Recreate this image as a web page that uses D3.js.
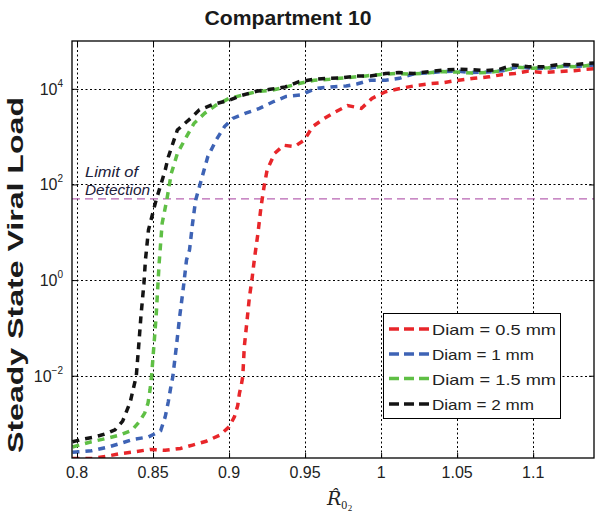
<!DOCTYPE html>
<html><head><meta charset="utf-8">
<script src="https://cdn.jsdelivr.net/npm/d3@7/dist/d3.min.js"></script>
<style>body{margin:0;background:#fff}svg{display:block}</style>
</head><body><div id="chart"></div>
<script>
// ---- data (y values given as log10 of the steady state viral load) ----
const seriesLabels = ["Diam = 0.5 mm", "Diam = 1 mm", "Diam = 1.5 mm", "Diam = 2 mm"];
const seriesColors = ["#e8262a", "#3e63b5", "#5fbf45", "#141414"];

const redX = [0.797,0.81,0.82,0.828,0.838,0.848,0.858,0.868,0.876,0.885,0.894,0.9,0.9035,0.9057,0.9068,0.908,0.909,0.910,0.9116,0.9134,0.915,0.9167,0.919,0.921,0.923,0.925,0.93,0.936,0.943,0.9495,0.955,0.9626,0.97,0.978,0.987,0.994,1.003,1.013,1.023,1.033,1.041,1.051,1.061,1.071,1.08,1.088,1.097,1.106,1.117,1.127,1.135,1.14];
const redLog = [-3.73,-3.73,-3.68,-3.63,-3.59,-3.54,-3.56,-3.52,-3.45,-3.37,-3.24,-3.07,-2.86,-2.62,-2.37,-2.2,-2.02,-1.4,-0.91,-0.35,0.0,0.45,0.98,1.53,1.95,2.3,2.65,2.82,2.79,2.93,3.21,3.38,3.52,3.65,3.59,3.8,3.94,4.01,4.07,4.11,4.13,4.18,4.22,4.25,4.3,4.32,4.37,4.34,4.36,4.38,4.41,4.42];

const blueX = [0.797,0.8095,0.8194,0.828,0.837,0.847,0.855,0.858,0.860,0.8615,0.863,0.8653,0.8675,0.870,0.872,0.874,0.876,0.878,0.8817,0.886,0.8915,0.897,0.9024,0.911,0.92,0.929,0.9375,0.947,0.957,0.967,0.977,0.984,0.993,1.003,1.012,1.022,1.03,1.04,1.05,1.06,1.07,1.08,1.09,1.1,1.11,1.12,1.13,1.14];
const blueLog = [-3.6,-3.57,-3.5,-3.42,-3.33,-3.28,-3.15,-2.86,-2.55,-2.27,-2.02,-1.4,-0.77,-0.14,0.42,0.63,1.19,1.67,2.09,2.58,2.93,3.21,3.38,3.49,3.59,3.73,3.84,3.87,4.01,4.04,4.06,4.1,4.18,4.18,4.22,4.32,4.33,4.36,4.37,4.34,4.35,4.38,4.46,4.43,4.43,4.48,4.47,4.5];

const greenX = [0.797,0.8095,0.8194,0.828,0.836,0.841,0.8445,0.8467,0.848,0.849,0.8505,0.852,0.853,0.854,0.855,0.856,0.859,0.862,0.866,0.872,0.877,0.884,0.8915,0.9,0.909,0.918,0.928,0.9375,0.946,0.956,0.966,0.976,0.99,1.0,1.01,1.02,1.03,1.04,1.05,1.06,1.07,1.08,1.09,1.1,1.11,1.12,1.13,1.14];
const greenLog = [-3.49,-3.38,-3.31,-3.24,-3.14,-2.96,-2.78,-2.57,-2.3,-2.02,-1.4,-0.77,-0.21,0.35,0.77,1.19,1.67,2.23,2.65,3.0,3.28,3.49,3.66,3.8,3.87,3.94,3.97,4.04,4.11,4.18,4.2,4.23,4.27,4.3,4.32,4.31,4.33,4.36,4.35,4.33,4.34,4.38,4.45,4.43,4.44,4.47,4.46,4.51];

const blackX = [0.797,0.805,0.81,0.815,0.82,0.825,0.83,0.835,0.839,0.8405,0.842,0.844,0.845,0.847,0.852,0.858,0.86,0.866,0.875,0.8805,0.89,0.899,0.908,0.918,0.927,0.937,0.946,0.956,0.966,0.9743,0.984,0.993,1.003,1.0117,1.0216,1.0314,1.04,1.05,1.06,1.069,1.077,1.087,1.097,1.107,1.117,1.1265,1.135,1.14];
const blackLog = [-3.38,-3.32,-3.29,-3.25,-3.2,-3.13,-2.95,-2.55,-2.0,-1.4,-0.77,-0.07,0.42,1.05,1.67,2.3,2.57,3.14,3.39,3.56,3.68,3.75,3.86,3.95,3.99,4.04,4.15,4.2,4.22,4.23,4.27,4.27,4.32,4.34,4.32,4.36,4.39,4.41,4.4,4.38,4.4,4.5,4.46,4.46,4.51,4.5,4.53,4.54];

const xTicks = [0.8, 0.85, 0.9, 0.95, 1, 1.05, 1.1];
const xTickLabels = ["0.8", "0.85", "0.9", "0.95", "1", "1.05", "1.1"];
const yTickExps = [-2, 0, 2, 4];
const limitOfDetection = 50;
const titleText = "Compartment 10";
const yLabelText = "Steady State Viral Load";

// ---- layout ----
const W = 601, H = 518;
const m = {left: 72, right: 594, top: 41, bottom: 458};

const svg = d3.select("#chart").append("svg").attr("width", W).attr("height", H)
  .style("font-family", "'Liberation Sans', Arial, sans-serif");

const x = d3.scaleLinear().domain([0.7967, 1.14]).range([m.left, m.right]);
const y = d3.scaleLog().domain([Math.pow(10, -3.72), 1e5]).range([m.bottom, m.top]);

svg.append("defs").append("clipPath").attr("id", "clip")
  .append("rect").attr("x", m.left).attr("y", m.top)
  .attr("width", m.right - m.left).attr("height", m.bottom - m.top);

// grid
const grid = svg.append("g").attr("stroke", "#000").attr("stroke-width", 1)
  .attr("stroke-dasharray", "2,2.5");
grid.selectAll(".gx").data(xTicks).join("line")
  .attr("x1", d => Math.round(x(d)) + 0.5).attr("x2", d => Math.round(x(d)) + 0.5)
  .attr("y1", m.top).attr("y2", m.bottom);
grid.selectAll(".gy").data(yTickExps).join("line")
  .attr("y1", d => Math.round(y(Math.pow(10, d))) + 0.5).attr("y2", d => Math.round(y(Math.pow(10, d))) + 0.5)
  .attr("x1", m.left).attr("x2", m.right);

// limit of detection
svg.append("line")
  .attr("x1", m.left).attr("x2", m.right)
  .attr("y1", y(limitOfDetection)).attr("y2", y(limitOfDetection))
  .attr("stroke", "#b864b2").attr("stroke-width", 1.4).attr("stroke-dasharray", "8,5");

const lod = svg.append("text").attr("font-style", "italic").attr("font-size", 14)
  .attr("fill", "#20203a");
lod.append("tspan").attr("x", 85).attr("y", 177).attr("textLength", 53)
  .attr("lengthAdjust", "spacingAndGlyphs").text("Limit of");
lod.append("tspan").attr("x", 85).attr("y", 195).attr("textLength", 65)
  .attr("lengthAdjust", "spacingAndGlyphs").text("Detection");

// series
const series = [
  {x: redX, v: redLog},
  {x: blueX, v: blueLog},
  {x: greenX, v: greenLog},
  {x: blackX, v: blackLog}
];
const line = d3.line().x(d => x(d[0])).y(d => y(Math.pow(10, d[1])));
const lines = svg.append("g").attr("clip-path", "url(#clip)");
series.forEach((s, i) => {
  lines.append("path")
    .datum(s.x.map((xv, j) => [xv, s.v[j]]))
    .attr("d", line)
    .attr("fill", "none")
    .attr("stroke", seriesColors[i])
    .attr("stroke-width", 3.5)
    .attr("stroke-dasharray", "7,6");
});

// frame
svg.append("rect").attr("x", m.left).attr("y", m.top)
  .attr("width", m.right - m.left).attr("height", m.bottom - m.top)
  .attr("fill", "none").attr("stroke", "#000").attr("stroke-width", 1.3);

// axes ticks (inward, on all sides)
const xAxisB = d3.axisBottom(x).tickValues(xTicks).tickSize(-5).tickFormat("");
const xAxisT = d3.axisTop(x).tickValues(xTicks).tickSize(-5).tickFormat("");
const yAxisL = d3.axisLeft(y).tickValues(yTickExps.map(e => Math.pow(10, e))).tickSize(-5).tickFormat("");
const yAxisR = d3.axisRight(y).tickValues(yTickExps.map(e => Math.pow(10, e))).tickSize(-5).tickFormat("");
[[xAxisB, `translate(0,${m.bottom})`], [xAxisT, `translate(0,${m.top})`],
 [yAxisL, `translate(${m.left},0)`], [yAxisR, `translate(${m.right},0)`]].forEach(([ax, tr]) => {
  const g = svg.append("g").attr("transform", tr).call(ax);
  g.select(".domain").remove();
  g.selectAll("line").attr("stroke", "#000");
});

// x tick labels
svg.append("g").selectAll("text").data(xTicks).join("text")
  .attr("x", d => x(d)).attr("y", 478)
  .attr("text-anchor", "middle").attr("font-size", 16).attr("fill", "#222")
  .text((d, i) => xTickLabels[i]);

// y tick labels 10^n
const yl = svg.append("g").selectAll("text").data(yTickExps).join("text")
  .attr("x", 63).attr("y", d => y(Math.pow(10, d)) + 6)
  .attr("text-anchor", "end").attr("font-size", 16).attr("fill", "#222");
yl.append("tspan").text("10");
yl.append("tspan").attr("dy", -8).attr("font-size", 10)
  .text(d => d < 0 ? "\u2212" + Math.abs(d) : String(d));

// title
svg.append("text").attr("x", 288).attr("y", 25).attr("text-anchor", "middle")
  .attr("font-weight", "bold").attr("font-size", 20).attr("fill", "#1a1a1a")
  .attr("textLength", 167).attr("lengthAdjust", "spacingAndGlyphs")
  .text(titleText);

// y label
svg.append("text").attr("transform", "translate(23,275) rotate(-90)")
  .attr("text-anchor", "middle").attr("font-weight", "bold").attr("font-size", 22)
  .attr("fill", "#1a1a1a")
  .attr("textLength", 356).attr("lengthAdjust", "spacingAndGlyphs")
  .text(yLabelText);

// x label: R-hat with subscript 0 and sub-subscript 2 (single text element)
const xl = svg.append("text").attr("x", 327).attr("y", 505).attr("fill", "#222")
  .attr("font-family", "'DejaVu Serif', 'Liberation Serif', serif");
xl.append("tspan").attr("font-style", "italic").attr("font-size", 19).text("R\u0302");
xl.append("tspan").attr("dx", 0).attr("dy", 4).attr("font-size", 12)
  .attr("font-family", "'Liberation Serif', serif").text("0");
xl.append("tspan").attr("dx", 0.5).attr("dy", 2).attr("font-size", 9)
  .attr("font-family", "'Liberation Serif', serif").text("2");

// legend
const lg = svg.append("g");
lg.append("rect").attr("x", 383.5).attr("y", 313.5).attr("width", 177).attr("height", 105)
  .attr("fill", "#fff").attr("stroke", "#000").attr("stroke-width", 1);
const rowY = [329, 354, 378.5, 404];
seriesLabels.forEach((lab, i) => {
  lg.append("line").attr("x1", 389).attr("x2", 430).attr("y1", rowY[i]).attr("y2", rowY[i])
    .attr("stroke", seriesColors[i]).attr("stroke-width", 3.5).attr("stroke-dasharray", "10,5");
  lg.append("text").attr("x", 432).attr("y", rowY[i] + 6).attr("font-size", 15)
    .attr("fill", "#222")
    .attr("textLength", lab.length > 11 ? 124 : 102).attr("lengthAdjust", "spacingAndGlyphs")
    .text(lab);
});
</script></body></html>
